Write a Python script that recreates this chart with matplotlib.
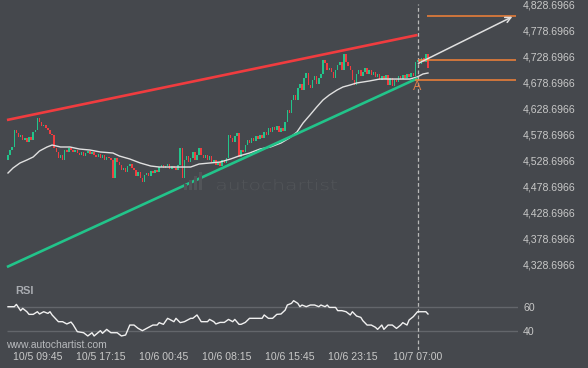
import matplotlib
matplotlib.use("Agg")
import matplotlib.pyplot as plt
from matplotlib.textpath import TextPath
from matplotlib.patches import PathPatch, Rectangle
from matplotlib.font_manager import FontProperties
from matplotlib.transforms import Affine2D
import numpy as np

# 15-minute candles, index 0 = 10/5 06:15
FIRST_OPEN = 4530
CLOSES = [
    4539, 4549, 4554, 4587, 4581, 4574, 4577, 4568, 4572, 4564,
    4574, 4568, 4583, 4587, 4610, 4602, 4595, 4597, 4591, 4587,
    4579, 4577, 4552, 4545, 4533, 4539, 4529, 4549, 4545, 4552,
    4549, 4545, 4549, 4543, 4539, 4545, 4537, 4543, 4547, 4541,
    4545, 4539, 4535, 4541, 4533, 4539, 4529, 4535, 4533, 4529,
    4495, 4533, 4525, 4520, 4510, 4514, 4506, 4518, 4522, 4514,
    4510, 4498, 4506, 4495, 4487, 4500, 4504, 4498, 4508, 4504,
    4510, 4506, 4516, 4520, 4514, 4518, 4522, 4512, 4518, 4514,
    4510, 4520, 4552, 4495, 4529, 4537, 4525, 4533, 4545, 4529,
    4539, 4552, 4539, 4533, 4539, 4529, 4537, 4525, 4529, 4520,
    4525, 4518, 4529, 4524, 4533, 4577, 4572, 4564, 4575, 4581,
    4535, 4549, 4545, 4558, 4568, 4562, 4572, 4566, 4575, 4570,
    4577, 4572, 4583, 4577, 4591, 4583, 4593, 4587, 4595, 4583,
    4591, 4585, 4602, 4625, 4620, 4645, 4654, 4645, 4668, 4675,
    4664, 4687, 4697, 4674, 4668, 4683, 4691, 4675, 4687, 4695,
    4722, 4716, 4702, 4706, 4699, 4687, 4702, 4712, 4718, 4702,
    4733, 4718, 4710, 4702, 4683, 4674, 4695, 4702, 4691, 4699,
    4706, 4695, 4702, 4693, 4699, 4689, 4695, 4683, 4691, 4685,
    4693, 4674, 4687, 4672, 4683, 4679, 4691, 4685, 4693, 4687,
    4695, 4689, 4697, 4691, 4718, 4722, 4714, 4725, 4718, 4733,
    4706,
]

MA_IDX = [0, 2.4, 5.7, 9, 12, 15, 18.6, 21, 25, 29.5, 34, 39, 44, 50, 53, 58,
          63, 68, 72, 82, 87, 91, 96, 101, 106, 110, 115, 120, 125, 130, 134,
          137.6, 140.5, 143.8, 147, 150, 153, 156.7, 159.5, 162.9, 166, 169,
          172, 177, 186.7, 191.4, 194.8, 197.6, 200]
MA_VAL = [4504.3, 4513.9, 4523.5, 4529.3, 4535.1, 4546.6, 4554.3, 4558.1,
          4554.3, 4554.3, 4550.4, 4548.5, 4544.7, 4542.7, 4537.0, 4531.2,
          4523.5, 4517.7, 4515.8, 4515.8, 4515.8, 4521.6, 4523.5, 4525.4,
          4531.2, 4537.0, 4542.7, 4550.4, 4554.3, 4562.0, 4571.6, 4583.1,
          4600.4, 4615.8, 4631.2, 4644.7, 4654.3, 4663.9, 4669.7, 4673.5,
          4677.4, 4679.3, 4681.2, 4685.0, 4685.0, 4685.0, 4688.9, 4694.7,
          4696.6]

RSI_IDX = [0, 3, 4, 6, 7, 9, 10, 12, 14, 15, 17, 19, 20, 21, 24, 26, 28, 30,
           31, 33, 36, 38, 40, 41, 44, 45, 47, 49, 52, 54, 56, 58, 60, 62, 64,
           66, 69, 71, 72, 74, 76, 77, 79, 80, 82, 84, 87, 88, 90, 92, 95, 96,
           98, 99, 101, 103, 105, 107, 108, 110, 111, 113, 115, 119, 121, 122,
           124, 126, 128, 130, 132, 133, 135, 136, 138, 139, 140, 142, 144,
           146, 148, 149, 151, 152, 153, 156, 157, 159, 161, 163, 164, 166,
           168, 169, 171, 173, 175, 176, 178, 179, 181, 183, 185, 187, 188,
           190, 191, 193, 195, 196, 199, 200]
RSI_VAL = [60.0, 60.0, 61.9, 56.7, 58.6, 55.8, 53.6, 53.6, 55.8, 53.9, 55.8,
           54.4, 55.8, 53.1, 47.5, 47.5, 45.6, 47.2, 45.0, 39.2, 38.3, 35.6,
           38.3, 35.6, 40.0, 37.8, 41.1, 38.3, 38.3, 35.6, 36.4, 44.7, 44.7,
           41.9, 40.0, 41.9, 44.7, 44.7, 46.7, 45.3, 50.3, 49.4, 47.5, 50.3,
           46.7, 47.5, 50.3, 50.3, 53.1, 47.5, 47.5, 49.4, 47.5, 45.6, 46.9,
           46.9, 49.4, 47.5, 49.4, 45.3, 45.3, 46.9, 50.3, 50.3, 50.3, 53.1,
           50.3, 50.3, 53.6, 53.9, 57.2, 61.4, 62.8, 65.0, 62.8, 60.0, 61.4,
           60.0, 61.4, 61.4, 60.0, 61.4, 60.0, 61.4, 59.4, 59.4, 56.7, 56.7,
           55.8, 53.1, 55.8, 52.2, 51.1, 48.3, 44.7, 44.7, 42.8, 41.1, 44.7,
           41.1, 44.7, 44.7, 41.9, 44.7, 46.7, 44.7, 48.9, 51.7, 55.8, 55.8,
           55.8, 53.9]

# pattern lines (x = candle index)
RES_X = [-0.5, 195]
RES_Y = [4606.2, 4769.7]
SUP_X = [-0.5, 195]
SUP_Y = [4323.5, 4686.4]
LEVELS = [4805.6, 4721.0, 4682.5]
LEVEL_START = [199.5, 195, 194]
LEVEL_END = 241.8
ARROW_FROM = (195.4, 4715.2)
ARROW_TO = (240.2, 4804.9)
POINT_A = (195, 4669.1)
EVENT_IDX = 195

PRICE_TICKS = [4328.6966 + 50 * k for k in range(11)]
RSI_TICKS = [40, 60]
TIME_IDX = [14, 44, 74, 104, 134, 164, 195]
TIME_LABELS = ["10/5 09:45", "10/5 17:15", "10/6 00:45", "10/6 08:15",
               "10/6 15:45", "10/6 23:15", "10/7 07:00"]

BG = "#45484d"
TXT = "#c8c8c8"
GREEN = "#22c48a"
RED = "#f03c3f"
ORANGE = "#f58238"

plt.rcParams["font.family"] = ["Liberation Sans", "DejaVu Sans"]

W, H = 588, 368
fig = plt.figure(figsize=(W / 100, H / 100), dpi=100)
fig.patch.set_facecolor(BG)
ax = fig.add_axes([0, 1 - 280 / H, 518 / W, 280 / H])
rsi_ax = fig.add_axes([0, 1 - 350 / H, 518 / W, 70 / H], sharex=ax)
xlim = (-8 / 2.1, 510 / 2.1)

for a in (ax, rsi_ax):
    a.set_facecolor(BG)
    for s in a.spines.values():
        s.set_visible(False)
    a.yaxis.tick_right()

# watermark
tp = TextPath((0, 0), "autochartist", size=1,
              prop=FontProperties(family="DejaVu Sans", weight="light"))
bb = tp.get_extents()
tr = (Affine2D().translate(-bb.x0, 0).scale(1.2 / bb.width, 0.11 / bb.y1)
      .translate(2.17, (H - 190) / 100) + fig.dpi_scale_trans)
fig.add_artist(PathPatch(tp, transform=tr, fc="#525559", ec="none"))
for bx, top in zip([184, 189, 194, 199], [184, 180, 176, 172]):
    fig.add_artist(Rectangle((bx / W, 1 - 190 / H), 3 / W, (190 - top) / H,
                             transform=fig.transFigure, fc="#525559", ec="none"))

# candles
closes = np.array(CLOSES, dtype=float)
opens = np.concatenate([[FIRST_OPEN], closes[:-1]])
idx = np.arange(len(closes))
lows = np.minimum(opens, closes)
heights = np.maximum(np.abs(closes - opens), 1.5)
colors = [GREEN if c >= o else RED for o, c in zip(opens, closes)]
ax.bar(idx, heights, bottom=lows, width=0.75, color=colors, linewidth=0, zorder=3)

ax.plot(MA_IDX, MA_VAL, color="#e0e0e0", lw=1.0, zorder=4)
ax.plot(RES_X, RES_Y, color=RED, lw=1.9, solid_capstyle="butt", zorder=5)
ax.plot(SUP_X, SUP_Y, color=GREEN, lw=1.9, solid_capstyle="butt", zorder=5)
ax.hlines(LEVELS, LEVEL_START, LEVEL_END, color=ORANGE, lw=1.1, zorder=5)
ax.annotate("", xy=ARROW_TO, xytext=ARROW_FROM,
            arrowprops=dict(arrowstyle="->", color="#e0e0e0", lw=1.1,
                            mutation_scale=10, shrinkA=0, shrinkB=0), zorder=6)
ax.text(POINT_A[0], POINT_A[1], "A", color="#e07d48", fontsize=9,
        ha="center", va="center", zorder=6)
ax.axvline(EVENT_IDX, ymin=0, ymax=1 - 4 / 280, color="#b8b8b8", lw=0.9,
           ls=(0, (3, 2)), zorder=2)

ax.set_xlim(*xlim)
ax.set_ylim(4298.5, 4837.0)
ax.set_yticks(PRICE_TICKS)
ax.set_yticklabels([f"{v:,.4f}" for v in PRICE_TICKS])
ax.tick_params(axis="y", length=0, pad=3.6, labelsize=7.6, labelcolor=TXT)
ax.tick_params(axis="x", bottom=False, labelbottom=False)

# RSI panel
rsi_ax.hlines(RSI_TICKS, -0.5, xlim[1], color="#63666b", lw=1, zorder=1)
rsi_ax.plot(RSI_IDX, RSI_VAL, color="#f0f0f0", lw=1, zorder=3)
rsi_ax.axvline(EVENT_IDX, color="#b8b8b8", lw=0.9, ls=(0, (3, 2)), zorder=2)
rsi_ax.set_ylim(23.9, 82.25)
rsi_ax.set_yticks(RSI_TICKS)
rsi_ax.set_yticklabels([str(v) for v in RSI_TICKS])
rsi_ax.set_xticks(TIME_IDX)
rsi_ax.set_xticklabels(TIME_LABELS)
rsi_ax.tick_params(axis="y", length=0, pad=3.6, labelsize=7.6, labelcolor=TXT)
rsi_ax.tick_params(axis="x", length=0, pad=1.5, labelsize=7.6, labelcolor=TXT)
rsi_ax.set_xlim(*xlim)

fig.text(15 / W, 1 - 291 / H, "RSI", fontsize=8, fontweight="bold",
         color="#a9acb1", va="center")
fig.text(6 / W, 1 - 345 / H, "www.autochartist.com", fontsize=7.5,
         color="#b8babd", va="center")

fig.savefig("out.png", dpi=100, facecolor=BG)
